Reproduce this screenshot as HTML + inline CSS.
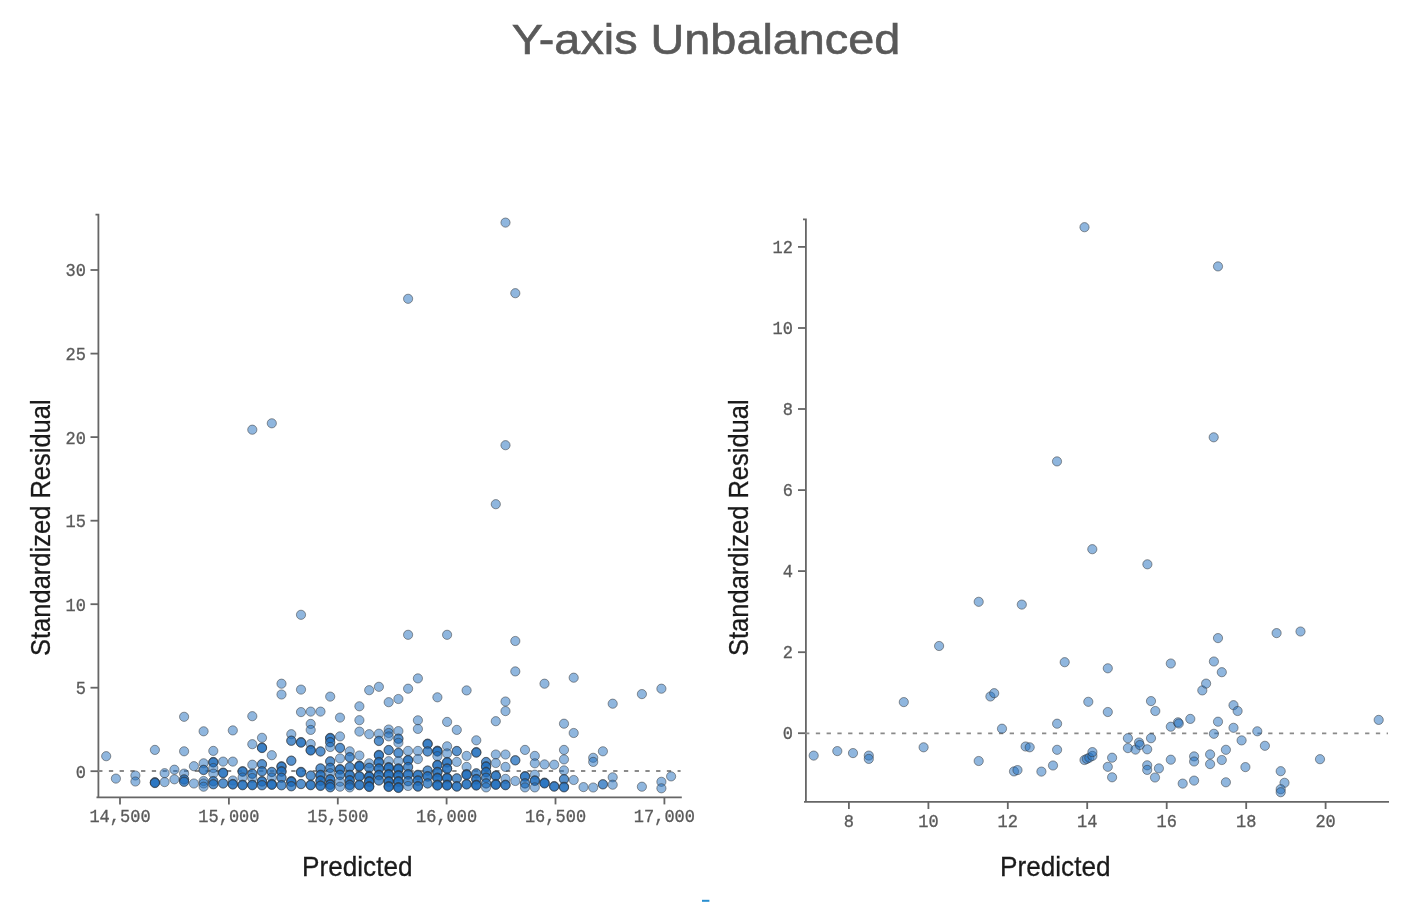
<!DOCTYPE html>
<html><head><meta charset="utf-8"><title>Y-axis Unbalanced</title>
<style>
html,body{margin:0;padding:0;background:#fff;}
body{width:1412px;height:906px;position:relative;overflow:hidden;filter:blur(0.4px);font-family:"Liberation Sans",sans-serif;}
.title{position:absolute;left:0;width:1412px;top:16.8px;text-align:center;font-size:42px;line-height:46px;color:#595959;-webkit-text-stroke:0.6px #595959;transform:scaleX(1.114);transform-origin:705.3px 0;}
.tk{transform:scaleY(1.1);transform-origin:50% 50%;position:absolute;font-family:"Liberation Mono",monospace;font-size:17px;line-height:20px;color:#5a5a5a;-webkit-text-stroke:0.3px #5a5a5a;white-space:nowrap;}
.xl{width:80px;text-align:center;}
.yl{text-align:right;}
.ax{position:absolute;font-size:28px;line-height:32px;color:#1a1a1a;-webkit-text-stroke:0.3px #1a1a1a;white-space:nowrap;transform-origin:0 0;}
</style></head><body>
<div class="title">Y-axis Unbalanced</div>
<svg width="1412" height="906" viewBox="0 0 1412 906" style="position:absolute;left:0;top:0">
<g fill="none" stroke="#666" stroke-width="1.8">
<path d="M95.5 214.6H98.4V797.3"/>
<path d="M96.5 797.3H681.8"/>
<path d="M90.5 270H98.4"/>
<path d="M90.5 353.6H98.4"/>
<path d="M90.5 437.1H98.4"/>
<path d="M90.5 520.7H98.4"/>
<path d="M90.5 604.2H98.4"/>
<path d="M90.5 687.7H98.4"/>
<path d="M90.5 771.2H98.4"/>
<path d="M120 797.3V804.4"/>
<path d="M228.9 797.3V804.4"/>
<path d="M337.8 797.3V804.4"/>
<path d="M446.6 797.3V804.4"/>
<path d="M555.5 797.3V804.4"/>
<path d="M664.4 797.3V804.4"/>
<path d="M803 219.4H805.9V801.9"/>
<path d="M804 801.9H1389"/>
<path d="M798 733.2H805.9"/>
<path d="M798 652.2H805.9"/>
<path d="M798 571.1H805.9"/>
<path d="M798 490.1H805.9"/>
<path d="M798 409.0H805.9"/>
<path d="M798 328.0H805.9"/>
<path d="M798 246.9H805.9"/>
<path d="M848.9 801.9V809"/>
<path d="M928.4 801.9V809"/>
<path d="M1007.8 801.9V809"/>
<path d="M1087.2 801.9V809"/>
<path d="M1166.7 801.9V809"/>
<path d="M1246.2 801.9V809"/>
<path d="M1325.6 801.9V809"/>
</g>
<g fill="none" stroke="#8a8a8a" stroke-width="1.8">
<path d="M98.15 771H680.6" stroke-dasharray="4.3 6.43"/>
<path d="M805.06 733.3H1388" stroke-dasharray="4.3 6.47"/>
</g>
<g fill="#1f6dbd" fill-opacity="0.5" stroke="#333" stroke-opacity="0.5" stroke-width="1">
<circle cx="106.2" cy="756.2" r="4.6"/>
<circle cx="115.9" cy="778.6" r="4.6"/>
<circle cx="135.4" cy="775.5" r="4.6"/>
<circle cx="135.4" cy="781.5" r="4.6"/>
<circle cx="154.9" cy="749.9" r="4.6"/>
<circle cx="154.9" cy="782.1" r="4.6"/>
<circle cx="154.9" cy="782.5" r="4.6"/>
<circle cx="154.9" cy="782.8" r="4.6"/>
<circle cx="154.9" cy="783.1" r="4.6"/>
<circle cx="164.6" cy="773.2" r="4.6"/>
<circle cx="164.6" cy="782.1" r="4.6"/>
<circle cx="174.4" cy="769.7" r="4.6"/>
<circle cx="174.4" cy="779.3" r="4.6"/>
<circle cx="184.1" cy="716.8" r="4.6"/>
<circle cx="184.1" cy="751.3" r="4.6"/>
<circle cx="184.1" cy="773.6" r="4.6"/>
<circle cx="184.1" cy="779.3" r="4.6"/>
<circle cx="184.1" cy="779.6" r="4.6"/>
<circle cx="184.1" cy="781.5" r="4.6"/>
<circle cx="184.1" cy="781.9" r="4.6"/>
<circle cx="193.9" cy="766.2" r="4.6"/>
<circle cx="193.9" cy="783.5" r="4.6"/>
<circle cx="203.6" cy="731.3" r="4.6"/>
<circle cx="203.6" cy="763.3" r="4.6"/>
<circle cx="203.6" cy="769.7" r="4.6"/>
<circle cx="203.6" cy="770.1" r="4.6"/>
<circle cx="203.6" cy="781.0" r="4.6"/>
<circle cx="203.6" cy="783.5" r="4.6"/>
<circle cx="203.6" cy="786.7" r="4.6"/>
<circle cx="213.3" cy="750.9" r="4.6"/>
<circle cx="213.3" cy="761.9" r="4.6"/>
<circle cx="213.3" cy="762.2" r="4.6"/>
<circle cx="213.3" cy="762.6" r="4.6"/>
<circle cx="213.3" cy="768.0" r="4.6"/>
<circle cx="213.3" cy="773.6" r="4.6"/>
<circle cx="213.3" cy="781.0" r="4.6"/>
<circle cx="213.3" cy="781.4" r="4.6"/>
<circle cx="213.3" cy="784.0" r="4.6"/>
<circle cx="213.3" cy="784.4" r="4.6"/>
<circle cx="223.1" cy="761.6" r="4.6"/>
<circle cx="223.1" cy="772.5" r="4.6"/>
<circle cx="223.1" cy="772.9" r="4.6"/>
<circle cx="223.1" cy="773.2" r="4.6"/>
<circle cx="223.1" cy="783.2" r="4.6"/>
<circle cx="223.1" cy="783.6" r="4.6"/>
<circle cx="232.8" cy="730.4" r="4.6"/>
<circle cx="232.8" cy="761.6" r="4.6"/>
<circle cx="232.8" cy="780.5" r="4.6"/>
<circle cx="232.8" cy="783.9" r="4.6"/>
<circle cx="232.8" cy="784.2" r="4.6"/>
<circle cx="232.8" cy="784.6" r="4.6"/>
<circle cx="242.6" cy="771.1" r="4.6"/>
<circle cx="242.6" cy="771.5" r="4.6"/>
<circle cx="242.6" cy="771.8" r="4.6"/>
<circle cx="242.6" cy="777.5" r="4.6"/>
<circle cx="242.6" cy="784.6" r="4.6"/>
<circle cx="242.6" cy="785.0" r="4.6"/>
<circle cx="242.6" cy="785.3" r="4.6"/>
<circle cx="252.3" cy="429.7" r="4.6"/>
<circle cx="252.3" cy="716.2" r="4.6"/>
<circle cx="252.3" cy="744.2" r="4.6"/>
<circle cx="252.3" cy="764.7" r="4.6"/>
<circle cx="252.3" cy="773.5" r="4.6"/>
<circle cx="252.3" cy="773.9" r="4.6"/>
<circle cx="252.3" cy="778.0" r="4.6"/>
<circle cx="252.3" cy="784.6" r="4.6"/>
<circle cx="252.3" cy="785.0" r="4.6"/>
<circle cx="252.3" cy="785.3" r="4.6"/>
<circle cx="262.0" cy="737.8" r="4.6"/>
<circle cx="262.0" cy="747.4" r="4.6"/>
<circle cx="262.0" cy="747.8" r="4.6"/>
<circle cx="262.0" cy="748.1" r="4.6"/>
<circle cx="262.0" cy="764.0" r="4.6"/>
<circle cx="262.0" cy="764.4" r="4.6"/>
<circle cx="262.0" cy="771.1" r="4.6"/>
<circle cx="262.0" cy="771.5" r="4.6"/>
<circle cx="262.0" cy="781.0" r="4.6"/>
<circle cx="262.0" cy="781.4" r="4.6"/>
<circle cx="262.0" cy="781.7" r="4.6"/>
<circle cx="262.0" cy="785.0" r="4.6"/>
<circle cx="262.0" cy="785.4" r="4.6"/>
<circle cx="271.8" cy="423.3" r="4.6"/>
<circle cx="271.8" cy="755.2" r="4.6"/>
<circle cx="271.8" cy="771.8" r="4.6"/>
<circle cx="271.8" cy="772.1" r="4.6"/>
<circle cx="271.8" cy="777.5" r="4.6"/>
<circle cx="271.8" cy="783.9" r="4.6"/>
<circle cx="271.8" cy="784.2" r="4.6"/>
<circle cx="271.8" cy="784.6" r="4.6"/>
<circle cx="271.8" cy="784.9" r="4.6"/>
<circle cx="281.5" cy="683.7" r="4.6"/>
<circle cx="281.5" cy="694.5" r="4.6"/>
<circle cx="281.5" cy="766.2" r="4.6"/>
<circle cx="281.5" cy="766.6" r="4.6"/>
<circle cx="281.5" cy="766.9" r="4.6"/>
<circle cx="281.5" cy="771.1" r="4.6"/>
<circle cx="281.5" cy="771.5" r="4.6"/>
<circle cx="281.5" cy="771.8" r="4.6"/>
<circle cx="281.5" cy="777.5" r="4.6"/>
<circle cx="281.5" cy="777.9" r="4.6"/>
<circle cx="281.5" cy="785.0" r="4.6"/>
<circle cx="281.5" cy="785.4" r="4.6"/>
<circle cx="291.3" cy="734.2" r="4.6"/>
<circle cx="291.3" cy="740.5" r="4.6"/>
<circle cx="291.3" cy="740.9" r="4.6"/>
<circle cx="291.3" cy="760.5" r="4.6"/>
<circle cx="291.3" cy="760.9" r="4.6"/>
<circle cx="291.3" cy="781.0" r="4.6"/>
<circle cx="291.3" cy="781.4" r="4.6"/>
<circle cx="291.3" cy="781.7" r="4.6"/>
<circle cx="291.3" cy="782.0" r="4.6"/>
<circle cx="291.3" cy="786.0" r="4.6"/>
<circle cx="291.3" cy="786.4" r="4.6"/>
<circle cx="301.0" cy="614.8" r="4.6"/>
<circle cx="301.0" cy="689.6" r="4.6"/>
<circle cx="301.0" cy="712.1" r="4.6"/>
<circle cx="301.0" cy="742.0" r="4.6"/>
<circle cx="301.0" cy="742.4" r="4.6"/>
<circle cx="301.0" cy="742.7" r="4.6"/>
<circle cx="301.0" cy="771.8" r="4.6"/>
<circle cx="301.0" cy="772.1" r="4.6"/>
<circle cx="301.0" cy="772.5" r="4.6"/>
<circle cx="301.0" cy="783.9" r="4.6"/>
<circle cx="301.0" cy="784.2" r="4.6"/>
<circle cx="310.7" cy="711.6" r="4.6"/>
<circle cx="310.7" cy="723.9" r="4.6"/>
<circle cx="310.7" cy="729.9" r="4.6"/>
<circle cx="310.7" cy="744.0" r="4.6"/>
<circle cx="310.7" cy="749.9" r="4.6"/>
<circle cx="310.7" cy="750.2" r="4.6"/>
<circle cx="310.7" cy="750.6" r="4.6"/>
<circle cx="310.7" cy="775.4" r="4.6"/>
<circle cx="310.7" cy="775.8" r="4.6"/>
<circle cx="310.7" cy="784.6" r="4.6"/>
<circle cx="310.7" cy="785.0" r="4.6"/>
<circle cx="310.7" cy="785.3" r="4.6"/>
<circle cx="320.5" cy="711.6" r="4.6"/>
<circle cx="320.5" cy="751.3" r="4.6"/>
<circle cx="320.5" cy="751.6" r="4.6"/>
<circle cx="320.5" cy="768.3" r="4.6"/>
<circle cx="320.5" cy="768.6" r="4.6"/>
<circle cx="320.5" cy="774.7" r="4.6"/>
<circle cx="320.5" cy="775.1" r="4.6"/>
<circle cx="320.5" cy="775.4" r="4.6"/>
<circle cx="320.5" cy="780.3" r="4.6"/>
<circle cx="320.5" cy="780.6" r="4.6"/>
<circle cx="320.5" cy="781.0" r="4.6"/>
<circle cx="320.5" cy="785.3" r="4.6"/>
<circle cx="320.5" cy="785.6" r="4.6"/>
<circle cx="320.5" cy="786.0" r="4.6"/>
<circle cx="330.2" cy="696.6" r="4.6"/>
<circle cx="330.2" cy="737.8" r="4.6"/>
<circle cx="330.2" cy="738.1" r="4.6"/>
<circle cx="330.2" cy="738.5" r="4.6"/>
<circle cx="330.2" cy="742.0" r="4.6"/>
<circle cx="330.2" cy="742.4" r="4.6"/>
<circle cx="330.2" cy="747.0" r="4.6"/>
<circle cx="330.2" cy="761.2" r="4.6"/>
<circle cx="330.2" cy="761.6" r="4.6"/>
<circle cx="330.2" cy="767.6" r="4.6"/>
<circle cx="330.2" cy="768.0" r="4.6"/>
<circle cx="330.2" cy="773.2" r="4.6"/>
<circle cx="330.2" cy="779.0" r="4.6"/>
<circle cx="330.2" cy="779.4" r="4.6"/>
<circle cx="330.2" cy="779.7" r="4.6"/>
<circle cx="330.2" cy="784.0" r="4.6"/>
<circle cx="330.2" cy="784.4" r="4.6"/>
<circle cx="330.2" cy="784.7" r="4.6"/>
<circle cx="330.2" cy="785.0" r="4.6"/>
<circle cx="330.2" cy="787.0" r="4.6"/>
<circle cx="330.2" cy="787.4" r="4.6"/>
<circle cx="340.0" cy="717.6" r="4.6"/>
<circle cx="340.0" cy="736.4" r="4.6"/>
<circle cx="340.0" cy="747.7" r="4.6"/>
<circle cx="340.0" cy="748.1" r="4.6"/>
<circle cx="340.0" cy="758.4" r="4.6"/>
<circle cx="340.0" cy="769.0" r="4.6"/>
<circle cx="340.0" cy="769.4" r="4.6"/>
<circle cx="340.0" cy="769.7" r="4.6"/>
<circle cx="340.0" cy="774.7" r="4.6"/>
<circle cx="340.0" cy="775.1" r="4.6"/>
<circle cx="340.0" cy="781.7" r="4.6"/>
<circle cx="340.0" cy="786.7" r="4.6"/>
<circle cx="349.7" cy="751.3" r="4.6"/>
<circle cx="349.7" cy="757.0" r="4.6"/>
<circle cx="349.7" cy="757.4" r="4.6"/>
<circle cx="349.7" cy="766.9" r="4.6"/>
<circle cx="349.7" cy="767.2" r="4.6"/>
<circle cx="349.7" cy="774.7" r="4.6"/>
<circle cx="349.7" cy="775.1" r="4.6"/>
<circle cx="349.7" cy="775.4" r="4.6"/>
<circle cx="349.7" cy="780.0" r="4.6"/>
<circle cx="349.7" cy="780.4" r="4.6"/>
<circle cx="349.7" cy="780.7" r="4.6"/>
<circle cx="349.7" cy="784.6" r="4.6"/>
<circle cx="349.7" cy="785.0" r="4.6"/>
<circle cx="349.7" cy="785.3" r="4.6"/>
<circle cx="349.7" cy="787.4" r="4.6"/>
<circle cx="359.4" cy="706.3" r="4.6"/>
<circle cx="359.4" cy="720.2" r="4.6"/>
<circle cx="359.4" cy="731.6" r="4.6"/>
<circle cx="359.4" cy="755.5" r="4.6"/>
<circle cx="359.4" cy="765.5" r="4.6"/>
<circle cx="359.4" cy="765.9" r="4.6"/>
<circle cx="359.4" cy="766.2" r="4.6"/>
<circle cx="359.4" cy="766.5" r="4.6"/>
<circle cx="359.4" cy="776.0" r="4.6"/>
<circle cx="359.4" cy="776.4" r="4.6"/>
<circle cx="359.4" cy="776.7" r="4.6"/>
<circle cx="359.4" cy="784.6" r="4.6"/>
<circle cx="359.4" cy="785.0" r="4.6"/>
<circle cx="359.4" cy="785.3" r="4.6"/>
<circle cx="369.2" cy="690.2" r="4.6"/>
<circle cx="369.2" cy="734.2" r="4.6"/>
<circle cx="369.2" cy="763.3" r="4.6"/>
<circle cx="369.2" cy="767.6" r="4.6"/>
<circle cx="369.2" cy="768.0" r="4.6"/>
<circle cx="369.2" cy="776.0" r="4.6"/>
<circle cx="369.2" cy="776.4" r="4.6"/>
<circle cx="369.2" cy="776.7" r="4.6"/>
<circle cx="369.2" cy="777.0" r="4.6"/>
<circle cx="369.2" cy="781.0" r="4.6"/>
<circle cx="369.2" cy="781.4" r="4.6"/>
<circle cx="369.2" cy="781.7" r="4.6"/>
<circle cx="369.2" cy="782.0" r="4.6"/>
<circle cx="369.2" cy="786.0" r="4.6"/>
<circle cx="369.2" cy="786.4" r="4.6"/>
<circle cx="369.2" cy="786.7" r="4.6"/>
<circle cx="369.2" cy="787.0" r="4.6"/>
<circle cx="378.9" cy="686.8" r="4.6"/>
<circle cx="378.9" cy="733.7" r="4.6"/>
<circle cx="378.9" cy="740.7" r="4.6"/>
<circle cx="378.9" cy="741.1" r="4.6"/>
<circle cx="378.9" cy="754.8" r="4.6"/>
<circle cx="378.9" cy="755.1" r="4.6"/>
<circle cx="378.9" cy="755.5" r="4.6"/>
<circle cx="378.9" cy="761.9" r="4.6"/>
<circle cx="378.9" cy="762.2" r="4.6"/>
<circle cx="378.9" cy="762.6" r="4.6"/>
<circle cx="378.9" cy="768.3" r="4.6"/>
<circle cx="378.9" cy="768.6" r="4.6"/>
<circle cx="378.9" cy="769.0" r="4.6"/>
<circle cx="378.9" cy="774.7" r="4.6"/>
<circle cx="378.9" cy="775.1" r="4.6"/>
<circle cx="378.9" cy="775.4" r="4.6"/>
<circle cx="378.9" cy="780.3" r="4.6"/>
<circle cx="378.9" cy="780.6" r="4.6"/>
<circle cx="388.7" cy="702.2" r="4.6"/>
<circle cx="388.7" cy="729.5" r="4.6"/>
<circle cx="388.7" cy="733.0" r="4.6"/>
<circle cx="388.7" cy="736.4" r="4.6"/>
<circle cx="388.7" cy="749.9" r="4.6"/>
<circle cx="388.7" cy="750.2" r="4.6"/>
<circle cx="388.7" cy="761.2" r="4.6"/>
<circle cx="388.7" cy="767.0" r="4.6"/>
<circle cx="388.7" cy="767.4" r="4.6"/>
<circle cx="388.7" cy="767.7" r="4.6"/>
<circle cx="388.7" cy="768.0" r="4.6"/>
<circle cx="388.7" cy="774.0" r="4.6"/>
<circle cx="388.7" cy="774.4" r="4.6"/>
<circle cx="388.7" cy="774.7" r="4.6"/>
<circle cx="388.7" cy="775.0" r="4.6"/>
<circle cx="388.7" cy="781.0" r="4.6"/>
<circle cx="388.7" cy="781.4" r="4.6"/>
<circle cx="388.7" cy="781.7" r="4.6"/>
<circle cx="388.7" cy="782.0" r="4.6"/>
<circle cx="388.7" cy="786.0" r="4.6"/>
<circle cx="388.7" cy="786.4" r="4.6"/>
<circle cx="388.7" cy="786.7" r="4.6"/>
<circle cx="388.7" cy="787.0" r="4.6"/>
<circle cx="398.4" cy="699.0" r="4.6"/>
<circle cx="398.4" cy="731.1" r="4.6"/>
<circle cx="398.4" cy="738.5" r="4.6"/>
<circle cx="398.4" cy="738.9" r="4.6"/>
<circle cx="398.4" cy="742.8" r="4.6"/>
<circle cx="398.4" cy="752.7" r="4.6"/>
<circle cx="398.4" cy="753.1" r="4.6"/>
<circle cx="398.4" cy="761.2" r="4.6"/>
<circle cx="398.4" cy="768.3" r="4.6"/>
<circle cx="398.4" cy="768.6" r="4.6"/>
<circle cx="398.4" cy="769.0" r="4.6"/>
<circle cx="398.4" cy="769.3" r="4.6"/>
<circle cx="398.4" cy="775.0" r="4.6"/>
<circle cx="398.4" cy="775.4" r="4.6"/>
<circle cx="398.4" cy="775.7" r="4.6"/>
<circle cx="398.4" cy="776.0" r="4.6"/>
<circle cx="398.4" cy="781.0" r="4.6"/>
<circle cx="398.4" cy="781.4" r="4.6"/>
<circle cx="398.4" cy="781.7" r="4.6"/>
<circle cx="398.4" cy="782.0" r="4.6"/>
<circle cx="398.4" cy="787.0" r="4.6"/>
<circle cx="398.4" cy="787.4" r="4.6"/>
<circle cx="398.4" cy="787.7" r="4.6"/>
<circle cx="398.4" cy="788.0" r="4.6"/>
<circle cx="408.1" cy="298.8" r="4.6"/>
<circle cx="408.1" cy="634.8" r="4.6"/>
<circle cx="408.1" cy="688.7" r="4.6"/>
<circle cx="408.1" cy="750.9" r="4.6"/>
<circle cx="408.1" cy="759.8" r="4.6"/>
<circle cx="408.1" cy="760.1" r="4.6"/>
<circle cx="408.1" cy="760.5" r="4.6"/>
<circle cx="408.1" cy="766.9" r="4.6"/>
<circle cx="408.1" cy="767.2" r="4.6"/>
<circle cx="408.1" cy="774.0" r="4.6"/>
<circle cx="408.1" cy="774.4" r="4.6"/>
<circle cx="408.1" cy="774.7" r="4.6"/>
<circle cx="408.1" cy="781.0" r="4.6"/>
<circle cx="408.1" cy="781.4" r="4.6"/>
<circle cx="408.1" cy="786.0" r="4.6"/>
<circle cx="417.9" cy="678.4" r="4.6"/>
<circle cx="417.9" cy="720.3" r="4.6"/>
<circle cx="417.9" cy="728.9" r="4.6"/>
<circle cx="417.9" cy="750.9" r="4.6"/>
<circle cx="417.9" cy="759.1" r="4.6"/>
<circle cx="417.9" cy="774.7" r="4.6"/>
<circle cx="417.9" cy="775.1" r="4.6"/>
<circle cx="417.9" cy="775.4" r="4.6"/>
<circle cx="417.9" cy="780.3" r="4.6"/>
<circle cx="417.9" cy="780.6" r="4.6"/>
<circle cx="417.9" cy="781.0" r="4.6"/>
<circle cx="417.9" cy="786.0" r="4.6"/>
<circle cx="417.9" cy="786.4" r="4.6"/>
<circle cx="417.9" cy="786.7" r="4.6"/>
<circle cx="427.6" cy="743.5" r="4.6"/>
<circle cx="427.6" cy="743.9" r="4.6"/>
<circle cx="427.6" cy="744.2" r="4.6"/>
<circle cx="427.6" cy="751.3" r="4.6"/>
<circle cx="427.6" cy="751.6" r="4.6"/>
<circle cx="427.6" cy="770.4" r="4.6"/>
<circle cx="427.6" cy="770.8" r="4.6"/>
<circle cx="427.6" cy="776.0" r="4.6"/>
<circle cx="427.6" cy="776.4" r="4.6"/>
<circle cx="427.6" cy="776.7" r="4.6"/>
<circle cx="427.6" cy="783.2" r="4.6"/>
<circle cx="427.6" cy="783.6" r="4.6"/>
<circle cx="437.4" cy="697.3" r="4.6"/>
<circle cx="437.4" cy="750.6" r="4.6"/>
<circle cx="437.4" cy="751.0" r="4.6"/>
<circle cx="437.4" cy="751.3" r="4.6"/>
<circle cx="437.4" cy="751.6" r="4.6"/>
<circle cx="437.4" cy="756.2" r="4.6"/>
<circle cx="437.4" cy="764.7" r="4.6"/>
<circle cx="437.4" cy="765.1" r="4.6"/>
<circle cx="437.4" cy="765.4" r="4.6"/>
<circle cx="437.4" cy="771.8" r="4.6"/>
<circle cx="437.4" cy="772.1" r="4.6"/>
<circle cx="437.4" cy="772.5" r="4.6"/>
<circle cx="437.4" cy="777.5" r="4.6"/>
<circle cx="437.4" cy="777.9" r="4.6"/>
<circle cx="437.4" cy="778.2" r="4.6"/>
<circle cx="437.4" cy="778.5" r="4.6"/>
<circle cx="437.4" cy="784.6" r="4.6"/>
<circle cx="437.4" cy="785.0" r="4.6"/>
<circle cx="437.4" cy="785.3" r="4.6"/>
<circle cx="437.4" cy="785.6" r="4.6"/>
<circle cx="447.1" cy="634.8" r="4.6"/>
<circle cx="447.1" cy="721.9" r="4.6"/>
<circle cx="447.1" cy="746.3" r="4.6"/>
<circle cx="447.1" cy="753.4" r="4.6"/>
<circle cx="447.1" cy="761.9" r="4.6"/>
<circle cx="447.1" cy="762.2" r="4.6"/>
<circle cx="447.1" cy="762.6" r="4.6"/>
<circle cx="447.1" cy="768.3" r="4.6"/>
<circle cx="447.1" cy="768.6" r="4.6"/>
<circle cx="447.1" cy="769.0" r="4.6"/>
<circle cx="447.1" cy="777.5" r="4.6"/>
<circle cx="447.1" cy="777.9" r="4.6"/>
<circle cx="447.1" cy="778.2" r="4.6"/>
<circle cx="447.1" cy="778.5" r="4.6"/>
<circle cx="447.1" cy="784.6" r="4.6"/>
<circle cx="447.1" cy="785.0" r="4.6"/>
<circle cx="447.1" cy="785.3" r="4.6"/>
<circle cx="447.1" cy="785.6" r="4.6"/>
<circle cx="456.8" cy="729.9" r="4.6"/>
<circle cx="456.8" cy="750.9" r="4.6"/>
<circle cx="456.8" cy="751.2" r="4.6"/>
<circle cx="456.8" cy="761.9" r="4.6"/>
<circle cx="456.8" cy="778.2" r="4.6"/>
<circle cx="456.8" cy="778.6" r="4.6"/>
<circle cx="456.8" cy="786.0" r="4.6"/>
<circle cx="456.8" cy="786.4" r="4.6"/>
<circle cx="456.8" cy="786.7" r="4.6"/>
<circle cx="466.6" cy="690.4" r="4.6"/>
<circle cx="466.6" cy="755.9" r="4.6"/>
<circle cx="466.6" cy="766.9" r="4.6"/>
<circle cx="466.6" cy="774.0" r="4.6"/>
<circle cx="466.6" cy="774.4" r="4.6"/>
<circle cx="466.6" cy="774.7" r="4.6"/>
<circle cx="466.6" cy="775.0" r="4.6"/>
<circle cx="466.6" cy="783.9" r="4.6"/>
<circle cx="466.6" cy="784.2" r="4.6"/>
<circle cx="466.6" cy="784.6" r="4.6"/>
<circle cx="476.3" cy="740.3" r="4.6"/>
<circle cx="476.3" cy="752.0" r="4.6"/>
<circle cx="476.3" cy="752.4" r="4.6"/>
<circle cx="476.3" cy="752.7" r="4.6"/>
<circle cx="476.3" cy="773.2" r="4.6"/>
<circle cx="476.3" cy="773.6" r="4.6"/>
<circle cx="476.3" cy="778.9" r="4.6"/>
<circle cx="476.3" cy="779.2" r="4.6"/>
<circle cx="476.3" cy="779.6" r="4.6"/>
<circle cx="476.3" cy="784.6" r="4.6"/>
<circle cx="476.3" cy="785.0" r="4.6"/>
<circle cx="476.3" cy="785.3" r="4.6"/>
<circle cx="476.3" cy="785.6" r="4.6"/>
<circle cx="486.1" cy="761.9" r="4.6"/>
<circle cx="486.1" cy="762.2" r="4.6"/>
<circle cx="486.1" cy="766.2" r="4.6"/>
<circle cx="486.1" cy="766.6" r="4.6"/>
<circle cx="486.1" cy="766.9" r="4.6"/>
<circle cx="486.1" cy="771.8" r="4.6"/>
<circle cx="486.1" cy="772.1" r="4.6"/>
<circle cx="486.1" cy="772.5" r="4.6"/>
<circle cx="486.1" cy="777.5" r="4.6"/>
<circle cx="486.1" cy="777.9" r="4.6"/>
<circle cx="486.1" cy="783.2" r="4.6"/>
<circle cx="486.1" cy="783.6" r="4.6"/>
<circle cx="486.1" cy="787.4" r="4.6"/>
<circle cx="495.8" cy="504.2" r="4.6"/>
<circle cx="495.8" cy="721.2" r="4.6"/>
<circle cx="495.8" cy="754.5" r="4.6"/>
<circle cx="495.8" cy="763.0" r="4.6"/>
<circle cx="495.8" cy="775.4" r="4.6"/>
<circle cx="495.8" cy="775.8" r="4.6"/>
<circle cx="495.8" cy="776.1" r="4.6"/>
<circle cx="495.8" cy="783.9" r="4.6"/>
<circle cx="495.8" cy="784.2" r="4.6"/>
<circle cx="495.8" cy="784.6" r="4.6"/>
<circle cx="495.8" cy="784.9" r="4.6"/>
<circle cx="505.5" cy="222.6" r="4.6"/>
<circle cx="505.5" cy="445.2" r="4.6"/>
<circle cx="505.5" cy="701.5" r="4.6"/>
<circle cx="505.5" cy="711.1" r="4.6"/>
<circle cx="505.5" cy="754.5" r="4.6"/>
<circle cx="505.5" cy="766.9" r="4.6"/>
<circle cx="505.5" cy="778.9" r="4.6"/>
<circle cx="505.5" cy="784.6" r="4.6"/>
<circle cx="505.5" cy="785.0" r="4.6"/>
<circle cx="505.5" cy="785.3" r="4.6"/>
<circle cx="515.3" cy="293.2" r="4.6"/>
<circle cx="515.3" cy="641.0" r="4.6"/>
<circle cx="515.3" cy="671.4" r="4.6"/>
<circle cx="515.3" cy="760.1" r="4.6"/>
<circle cx="515.3" cy="760.5" r="4.6"/>
<circle cx="515.3" cy="781.0" r="4.6"/>
<circle cx="525.0" cy="749.9" r="4.6"/>
<circle cx="525.0" cy="776.0" r="4.6"/>
<circle cx="525.0" cy="776.4" r="4.6"/>
<circle cx="525.0" cy="776.7" r="4.6"/>
<circle cx="525.0" cy="783.2" r="4.6"/>
<circle cx="525.0" cy="783.6" r="4.6"/>
<circle cx="525.0" cy="787.4" r="4.6"/>
<circle cx="534.8" cy="755.9" r="4.6"/>
<circle cx="534.8" cy="763.3" r="4.6"/>
<circle cx="534.8" cy="774.7" r="4.6"/>
<circle cx="534.8" cy="780.3" r="4.6"/>
<circle cx="534.8" cy="780.6" r="4.6"/>
<circle cx="534.8" cy="781.0" r="4.6"/>
<circle cx="534.8" cy="787.4" r="4.6"/>
<circle cx="544.5" cy="683.7" r="4.6"/>
<circle cx="544.5" cy="764.4" r="4.6"/>
<circle cx="544.5" cy="782.5" r="4.6"/>
<circle cx="544.5" cy="782.9" r="4.6"/>
<circle cx="544.5" cy="783.2" r="4.6"/>
<circle cx="544.5" cy="783.5" r="4.6"/>
<circle cx="554.2" cy="764.7" r="4.6"/>
<circle cx="554.2" cy="786.0" r="4.6"/>
<circle cx="554.2" cy="786.4" r="4.6"/>
<circle cx="554.2" cy="786.7" r="4.6"/>
<circle cx="564.0" cy="723.7" r="4.6"/>
<circle cx="564.0" cy="749.9" r="4.6"/>
<circle cx="564.0" cy="759.4" r="4.6"/>
<circle cx="564.0" cy="770.4" r="4.6"/>
<circle cx="564.0" cy="779.0" r="4.6"/>
<circle cx="564.0" cy="779.4" r="4.6"/>
<circle cx="564.0" cy="786.7" r="4.6"/>
<circle cx="564.0" cy="787.1" r="4.6"/>
<circle cx="564.0" cy="787.4" r="4.6"/>
<circle cx="573.7" cy="677.7" r="4.6"/>
<circle cx="573.7" cy="733.0" r="4.6"/>
<circle cx="573.7" cy="780.0" r="4.6"/>
<circle cx="583.5" cy="787.1" r="4.6"/>
<circle cx="593.2" cy="757.8" r="4.6"/>
<circle cx="593.2" cy="761.9" r="4.6"/>
<circle cx="593.2" cy="787.5" r="4.6"/>
<circle cx="602.9" cy="751.3" r="4.6"/>
<circle cx="602.9" cy="784.1" r="4.6"/>
<circle cx="602.9" cy="784.5" r="4.6"/>
<circle cx="612.7" cy="703.7" r="4.6"/>
<circle cx="612.7" cy="777.3" r="4.6"/>
<circle cx="612.7" cy="784.7" r="4.6"/>
<circle cx="641.9" cy="694.1" r="4.6"/>
<circle cx="641.9" cy="786.7" r="4.6"/>
<circle cx="661.4" cy="688.7" r="4.6"/>
<circle cx="661.4" cy="781.8" r="4.6"/>
<circle cx="661.4" cy="788.3" r="4.6"/>
<circle cx="671.1" cy="776.4" r="4.6"/>
<circle cx="1084.5" cy="227.2" r="4.6"/>
<circle cx="1218.0" cy="266.4" r="4.6"/>
<circle cx="1213.7" cy="437.3" r="4.6"/>
<circle cx="1057.0" cy="461.4" r="4.6"/>
<circle cx="1092.3" cy="549.2" r="4.6"/>
<circle cx="1147.4" cy="564.3" r="4.6"/>
<circle cx="813.7" cy="755.6" r="4.6"/>
<circle cx="837.3" cy="751.1" r="4.6"/>
<circle cx="853.0" cy="753.1" r="4.6"/>
<circle cx="868.8" cy="755.6" r="4.6"/>
<circle cx="868.8" cy="758.9" r="4.6"/>
<circle cx="903.8" cy="702.1" r="4.6"/>
<circle cx="923.6" cy="747.3" r="4.6"/>
<circle cx="939.1" cy="646.0" r="4.6"/>
<circle cx="978.7" cy="601.8" r="4.6"/>
<circle cx="978.7" cy="761.0" r="4.6"/>
<circle cx="990.4" cy="696.5" r="4.6"/>
<circle cx="994.2" cy="693.2" r="4.6"/>
<circle cx="1002.0" cy="728.7" r="4.6"/>
<circle cx="1021.8" cy="604.6" r="4.6"/>
<circle cx="1014.0" cy="771.4" r="4.6"/>
<circle cx="1017.5" cy="770.1" r="4.6"/>
<circle cx="1025.6" cy="746.5" r="4.6"/>
<circle cx="1029.7" cy="747.3" r="4.6"/>
<circle cx="1041.4" cy="771.6" r="4.6"/>
<circle cx="1053.0" cy="765.5" r="4.6"/>
<circle cx="1057.1" cy="749.8" r="4.6"/>
<circle cx="1057.1" cy="723.7" r="4.6"/>
<circle cx="1064.7" cy="662.2" r="4.6"/>
<circle cx="1088.3" cy="701.8" r="4.6"/>
<circle cx="1084.5" cy="760.0" r="4.6"/>
<circle cx="1086.8" cy="758.9" r="4.6"/>
<circle cx="1089.3" cy="757.7" r="4.6"/>
<circle cx="1092.4" cy="755.9" r="4.6"/>
<circle cx="1092.4" cy="752.1" r="4.6"/>
<circle cx="1107.8" cy="668.3" r="4.6"/>
<circle cx="1107.8" cy="712.0" r="4.6"/>
<circle cx="1112.1" cy="757.7" r="4.6"/>
<circle cx="1107.8" cy="766.8" r="4.6"/>
<circle cx="1112.1" cy="777.3" r="4.6"/>
<circle cx="1127.9" cy="738.2" r="4.6"/>
<circle cx="1127.9" cy="748.1" r="4.6"/>
<circle cx="1135.5" cy="749.6" r="4.6"/>
<circle cx="1139.0" cy="742.5" r="4.6"/>
<circle cx="1139.8" cy="745.0" r="4.6"/>
<circle cx="1147.2" cy="749.3" r="4.6"/>
<circle cx="1151.0" cy="738.2" r="4.6"/>
<circle cx="1151.0" cy="701.1" r="4.6"/>
<circle cx="1155.3" cy="711.0" r="4.6"/>
<circle cx="1147.2" cy="765.3" r="4.6"/>
<circle cx="1147.2" cy="769.9" r="4.6"/>
<circle cx="1158.9" cy="768.4" r="4.6"/>
<circle cx="1155.0" cy="777.5" r="4.6"/>
<circle cx="1170.8" cy="663.5" r="4.6"/>
<circle cx="1170.8" cy="726.7" r="4.6"/>
<circle cx="1178.0" cy="722.3" r="4.6"/>
<circle cx="1178.8" cy="723.5" r="4.6"/>
<circle cx="1170.8" cy="759.7" r="4.6"/>
<circle cx="1182.7" cy="783.6" r="4.6"/>
<circle cx="1190.3" cy="718.9" r="4.6"/>
<circle cx="1194.1" cy="756.4" r="4.6"/>
<circle cx="1194.1" cy="761.5" r="4.6"/>
<circle cx="1194.1" cy="780.6" r="4.6"/>
<circle cx="1202.3" cy="690.4" r="4.6"/>
<circle cx="1206.1" cy="683.6" r="4.6"/>
<circle cx="1210.1" cy="754.4" r="4.6"/>
<circle cx="1210.1" cy="764.1" r="4.6"/>
<circle cx="1213.9" cy="661.5" r="4.6"/>
<circle cx="1213.9" cy="733.8" r="4.6"/>
<circle cx="1218.0" cy="638.1" r="4.6"/>
<circle cx="1218.0" cy="721.7" r="4.6"/>
<circle cx="1221.8" cy="672.2" r="4.6"/>
<circle cx="1221.8" cy="760.0" r="4.6"/>
<circle cx="1225.9" cy="749.8" r="4.6"/>
<circle cx="1225.9" cy="782.3" r="4.6"/>
<circle cx="1233.5" cy="705.2" r="4.6"/>
<circle cx="1237.6" cy="711.0" r="4.6"/>
<circle cx="1233.5" cy="727.8" r="4.6"/>
<circle cx="1241.6" cy="740.4" r="4.6"/>
<circle cx="1245.4" cy="767.1" r="4.6"/>
<circle cx="1276.6" cy="633.1" r="4.6"/>
<circle cx="1300.5" cy="631.5" r="4.6"/>
<circle cx="1257.3" cy="731.3" r="4.6"/>
<circle cx="1264.9" cy="745.8" r="4.6"/>
<circle cx="1280.7" cy="771.2" r="4.6"/>
<circle cx="1284.5" cy="782.8" r="4.6"/>
<circle cx="1280.7" cy="789.2" r="4.6"/>
<circle cx="1280.7" cy="792.2" r="4.6"/>
<circle cx="1320.0" cy="759.2" r="4.6"/>
<circle cx="1378.7" cy="719.9" r="4.6"/>
</g>
<rect x="702" y="899.8" width="7.4" height="2" fill="#2a8fd0"/>
</svg>
<div class="tk yl" style="right:1326px;top:262.4px">30</div>
<div class="tk yl" style="right:1326px;top:346.0px">25</div>
<div class="tk yl" style="right:1326px;top:429.5px">20</div>
<div class="tk yl" style="right:1326px;top:513.1px">15</div>
<div class="tk yl" style="right:1326px;top:596.6px">10</div>
<div class="tk yl" style="right:1326px;top:680.1px">5</div>
<div class="tk yl" style="right:1326px;top:763.6px">0</div>
<div class="tk xl" style="left:80px;top:808.2px">14,500</div>
<div class="tk xl" style="left:188.9px;top:808.2px">15,000</div>
<div class="tk xl" style="left:297.8px;top:808.2px">15,500</div>
<div class="tk xl" style="left:406.6px;top:808.2px">16,000</div>
<div class="tk xl" style="left:515.5px;top:808.2px">16,500</div>
<div class="tk xl" style="left:624.4px;top:808.2px">17,000</div>
<div class="tk yl" style="right:619px;top:725.3px">0</div>
<div class="tk yl" style="right:619px;top:644.3px">2</div>
<div class="tk yl" style="right:619px;top:563.2px">4</div>
<div class="tk yl" style="right:619px;top:482.2px">6</div>
<div class="tk yl" style="right:619px;top:401.1px">8</div>
<div class="tk yl" style="right:619px;top:320.1px">10</div>
<div class="tk yl" style="right:619px;top:239.0px">12</div>
<div class="tk xl" style="left:808.9px;top:813px">8</div>
<div class="tk xl" style="left:888.4px;top:813px">10</div>
<div class="tk xl" style="left:967.8px;top:813px">12</div>
<div class="tk xl" style="left:1047.2px;top:813px">14</div>
<div class="tk xl" style="left:1126.7px;top:813px">16</div>
<div class="tk xl" style="left:1206.2px;top:813px">18</div>
<div class="tk xl" style="left:1285.6px;top:813px">20</div>
<div class="ax" id="p1" style="left:301.5px;top:851px;transform:scaleX(0.935);">Predicted</div>
<div class="ax" id="p2" style="left:999.5px;top:851px;transform:scaleX(0.935);">Predicted</div>
<div class="ax" id="s1" style="left:25.2px;top:656.2px;transform:rotate(-90deg) scaleX(0.911);">Standardized Residual</div>
<div class="ax" id="s2" style="left:723.2px;top:656.2px;transform:rotate(-90deg) scaleX(0.911);">Standardized Residual</div>
</body></html>
